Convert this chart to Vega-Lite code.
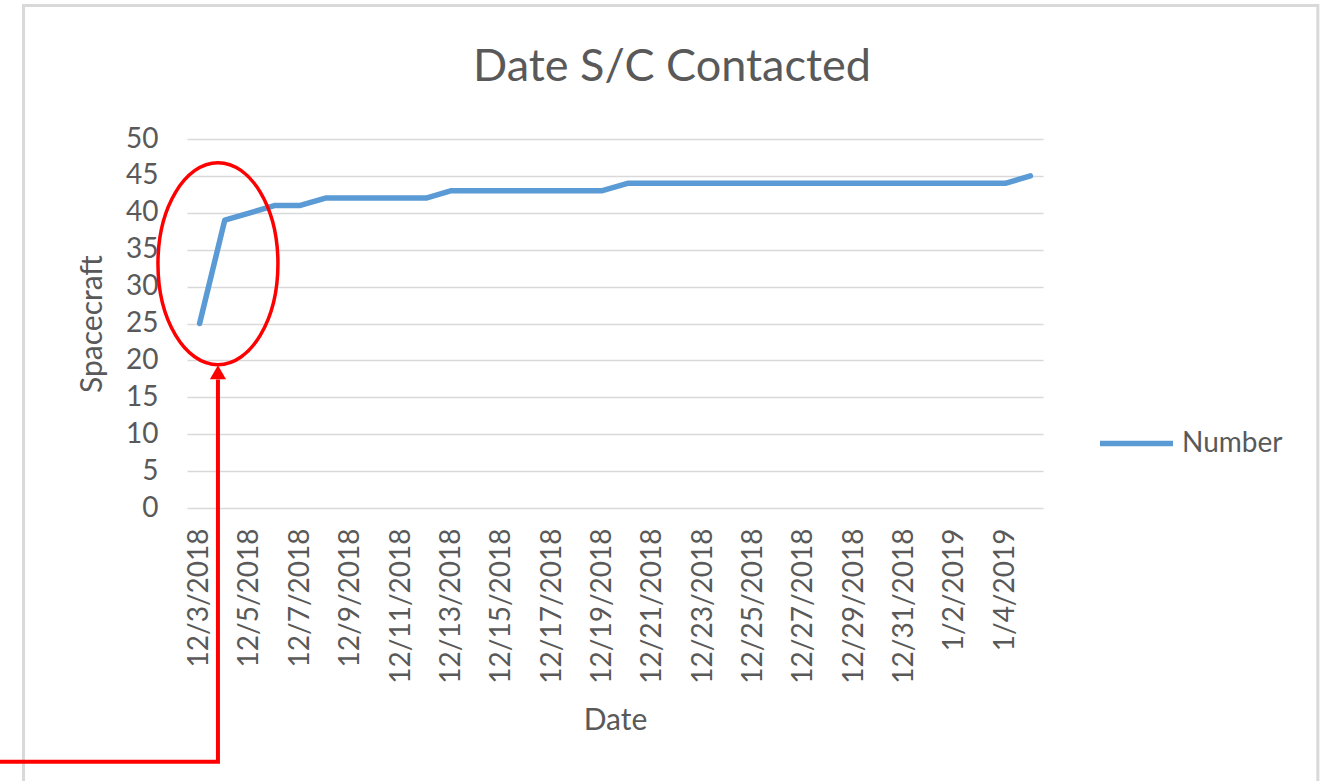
{
  "$schema": "https://vega.github.io/schema/vega-lite/v6.json",
  "autosize": {"type": "none"},
  "width": 856,
  "height": 369,
  "padding": {"left": 187, "top": 139, "right": 289, "bottom": 273},
  "background": "white",
  "title": {
    "text": "Date S/C Contacted",
    "font": "Lato",
    "fontSize": 45,
    "fontWeight": "normal",
    "color": "#595959",
    "anchor": "middle",
    "baseline": "alphabetic",
    "offset": -122,
    "dx": 57
  },
  "datasets": {
    "contacts": [
      {"date": "2018-12-03", "value": 25, "series": "Number"},
      {"date": "2018-12-04", "value": 39, "series": "Number"},
      {"date": "2018-12-05", "value": 40, "series": "Number"},
      {"date": "2018-12-06", "value": 41, "series": "Number"},
      {"date": "2018-12-07", "value": 41, "series": "Number"},
      {"date": "2018-12-08", "value": 42, "series": "Number"},
      {"date": "2018-12-09", "value": 42, "series": "Number"},
      {"date": "2018-12-10", "value": 42, "series": "Number"},
      {"date": "2018-12-11", "value": 42, "series": "Number"},
      {"date": "2018-12-12", "value": 42, "series": "Number"},
      {"date": "2018-12-13", "value": 43, "series": "Number"},
      {"date": "2018-12-14", "value": 43, "series": "Number"},
      {"date": "2018-12-15", "value": 43, "series": "Number"},
      {"date": "2018-12-16", "value": 43, "series": "Number"},
      {"date": "2018-12-17", "value": 43, "series": "Number"},
      {"date": "2018-12-18", "value": 43, "series": "Number"},
      {"date": "2018-12-19", "value": 43, "series": "Number"},
      {"date": "2018-12-20", "value": 44, "series": "Number"},
      {"date": "2018-12-21", "value": 44, "series": "Number"},
      {"date": "2018-12-22", "value": 44, "series": "Number"},
      {"date": "2018-12-23", "value": 44, "series": "Number"},
      {"date": "2018-12-24", "value": 44, "series": "Number"},
      {"date": "2018-12-25", "value": 44, "series": "Number"},
      {"date": "2018-12-26", "value": 44, "series": "Number"},
      {"date": "2018-12-27", "value": 44, "series": "Number"},
      {"date": "2018-12-28", "value": 44, "series": "Number"},
      {"date": "2018-12-29", "value": 44, "series": "Number"},
      {"date": "2018-12-30", "value": 44, "series": "Number"},
      {"date": "2018-12-31", "value": 44, "series": "Number"},
      {"date": "2019-01-01", "value": 44, "series": "Number"},
      {"date": "2019-01-02", "value": 44, "series": "Number"},
      {"date": "2019-01-03", "value": 44, "series": "Number"},
      {"date": "2019-01-04", "value": 44, "series": "Number"},
      {"date": "2019-01-05", "value": 45, "series": "Number"}
    ],
    "border": [
      {"date": "2018-11-26T00:10:00Z", "date2": "2019-01-16T10:00:00Z", "value": 68.1, "value2": -50}
    ],
    "highlight": [
      {"date": "2018-12-03T17:30:00Z", "value": 33.1}
    ],
    "arrow": [
      {"date": "2018-11-24T12:00:00Z", "value": -34.4, "step": 1},
      {"date": "2018-12-03T17:30:00Z", "value": -34.4, "step": 2},
      {"date": "2018-12-03T17:30:00Z", "value": 17.4, "step": 3}
    ],
    "arrowhead": [
      {"date": "2018-12-03T17:30:00Z", "value": 18.4}
    ]
  },
  "encoding": {
    "x": {
      "field": "date",
      "type": "temporal",
      "title": "Date",
      "scale": {
        "type": "utc",
        "domain": [
          {"year": 2018, "month": 12, "date": 2, "hours": 12, "utc": true},
          {"year": 2019, "month": 1, "date": 5, "hours": 12, "utc": true}
        ]
      },
      "axis": {
        "values": [
          {"year": 2018, "month": 12, "date": 3, "utc": true},
          {"year": 2018, "month": 12, "date": 5, "utc": true},
          {"year": 2018, "month": 12, "date": 7, "utc": true},
          {"year": 2018, "month": 12, "date": 9, "utc": true},
          {"year": 2018, "month": 12, "date": 11, "utc": true},
          {"year": 2018, "month": 12, "date": 13, "utc": true},
          {"year": 2018, "month": 12, "date": 15, "utc": true},
          {"year": 2018, "month": 12, "date": 17, "utc": true},
          {"year": 2018, "month": 12, "date": 19, "utc": true},
          {"year": 2018, "month": 12, "date": 21, "utc": true},
          {"year": 2018, "month": 12, "date": 23, "utc": true},
          {"year": 2018, "month": 12, "date": 25, "utc": true},
          {"year": 2018, "month": 12, "date": 27, "utc": true},
          {"year": 2018, "month": 12, "date": 29, "utc": true},
          {"year": 2018, "month": 12, "date": 31, "utc": true},
          {"year": 2019, "month": 1, "date": 2, "utc": true},
          {"year": 2019, "month": 1, "date": 4, "utc": true}
        ],
        "format": "%-m/%-d/%Y",
        "labelAngle": -90,
        "labelAlign": "right",
        "labelBaseline": "middle",
        "labelPadding": 20,
        "labelOverlap": false,
        "labelFlush": false,
        "grid": false,
        "ticks": false,
        "domain": false,
        "titlePadding": 22
      }
    },
    "y": {
      "field": "value",
      "type": "quantitative",
      "title": "Spacecraft",
      "scale": {"domain": [0, 50], "nice": false, "zero": true},
      "axis": {
        "values": [0, 5, 10, 15, 20, 25, 30, 35, 40, 45, 50],
        "grid": true,
        "ticks": false,
        "domain": false,
        "labelPadding": 29,
        "titlePadding": 18
      }
    }
  },
  "layer": [
    {
      "data": {"name": "border"},
      "mark": {"type": "rect", "fill": null, "stroke": "#D9D9D9", "strokeWidth": 3, "clip": false},
      "encoding": {
        "x2": {"field": "date2"},
        "y2": {"field": "value2"}
      }
    },
    {
      "data": {"name": "contacts"},
      "mark": {"type": "line", "strokeWidth": 5.5, "strokeJoin": "round", "strokeCap": "round"},
      "encoding": {
        "color": {
          "field": "series",
          "type": "nominal",
          "scale": {"range": ["#5B9BD5"]},
          "legend": {
            "title": null,
            "orient": "none",
            "legendX": 910,
            "legendY": 265,
            "symbolType": "stroke",
            "symbolSize": 5329,
            "symbolStrokeWidth": 5.5,
            "labelFont": "Lato",
            "labelFontSize": 28,
            "labelColor": "#595959",
            "labelOffset": 6
          }
        }
      }
    },
    {
      "data": {"name": "highlight"},
      "mark": {
        "type": "point",
        "shape": "M0,-1A0.594,1 0 1,1 0,1A0.594,1 0 1,1 0,-1Z",
        "size": 40804,
        "filled": false,
        "stroke": "#FF0000",
        "strokeWidth": 3.5,
        "opacity": 1,
        "clip": false
      }
    },
    {
      "data": {"name": "arrow"},
      "mark": {"type": "line", "color": "#FF0000", "strokeWidth": 4, "strokeJoin": "miter", "clip": false},
      "encoding": {
        "order": {"field": "step", "type": "quantitative"}
      }
    },
    {
      "data": {"name": "arrowhead"},
      "mark": {"type": "point", "shape": "triangle-up", "size": 260, "filled": true, "color": "#FF0000", "opacity": 1, "clip": false}
    }
  ],
  "config": {
    "view": {"stroke": null},
    "font": "Lato",
    "axis": {
      "labelFont": "Lato",
      "labelFontSize": 28,
      "labelColor": "#595959",
      "titleFont": "Lato",
      "titleFontSize": 30,
      "titleFontWeight": "normal",
      "titleColor": "#595959",
      "gridColor": "#D9D9D9",
      "gridWidth": 1.5
    }
  }
}
